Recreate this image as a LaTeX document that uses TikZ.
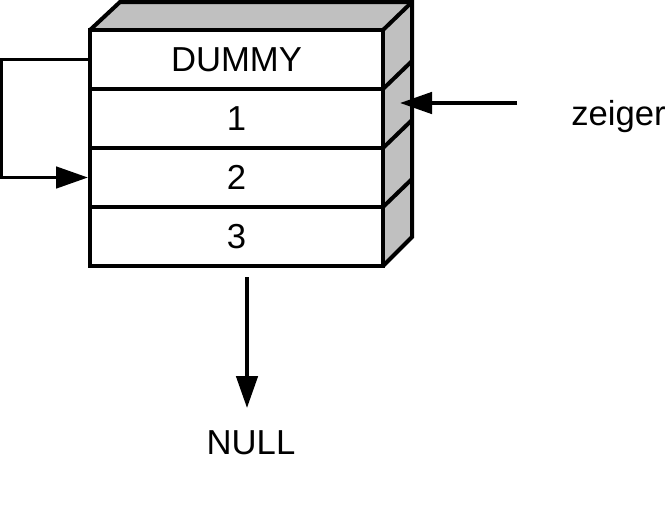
\documentclass[tikz,border=0pt]{standalone}
\usepackage{fontspec}
\setmainfont{Liberation Sans}
\usetikzlibrary{arrows.meta}
\definecolor{sidegray}{RGB}{192,192,192}
\begin{document}
\begin{tikzpicture}[x=0.75pt,y=-0.75pt,
  thick line/.style={line width=3pt, line join=miter},
  rowbox/.style={draw, line width=3pt, fill=white, minimum width=219.75pt, minimum height=44.25pt, inner sep=0pt, font=\fontsize{26}{30}\selectfont},
  lbl/.style={inner sep=0pt, font=\fontsize{26}{30}\selectfont},
  bigtip/.style={-{Triangle[length=24pt,width=16pt]}, line width=2.8pt}
]
\useasboundingbox (0,0) rectangle (670,507);
% 3D faces
\fill[sidegray] (90,30) -- (120,2) -- (412,2) -- (383,30) -- cycle;
\fill[sidegray] (383,30) -- (412,2) -- (412,237) -- (383,266) -- cycle;
\draw[thick line] (90,30) -- (120,2) -- (412,2) -- (412,237) -- (383,266);
\draw[thick line] (383,30) -- (412,2);
\foreach \yy in {89,148,207} \draw[thick line] (383,\yy) -- (412,\yy-28);
% rows
\node[rowbox] (dummy) at (236.5,59.5) {DUMMY};
\node[rowbox] (one) at (236.5,118.5) {1};
\node[rowbox] (two) at (236.5,177.5) {2};
\node[rowbox] (three) at (236.5,236.5) {3};
% self link
\draw[bigtip] (dummy.west) -- ++(-87,0) |- (two.west);
% zeiger
\node[lbl, anchor=base west] (zeiger) at (571,125) {zeiger};
\coordinate (zstart) at (517,103);
\coordinate (zend) at (400,103);
\draw[bigtip] (zstart) -- (zend);
% NULL
\node[lbl] (null) at (251,443) {NULL};
\coordinate (nstart) at (247,277);
\coordinate (nend) at (247,408);
\draw[bigtip] (nstart) -- (nend);
\end{tikzpicture}
\end{document}
